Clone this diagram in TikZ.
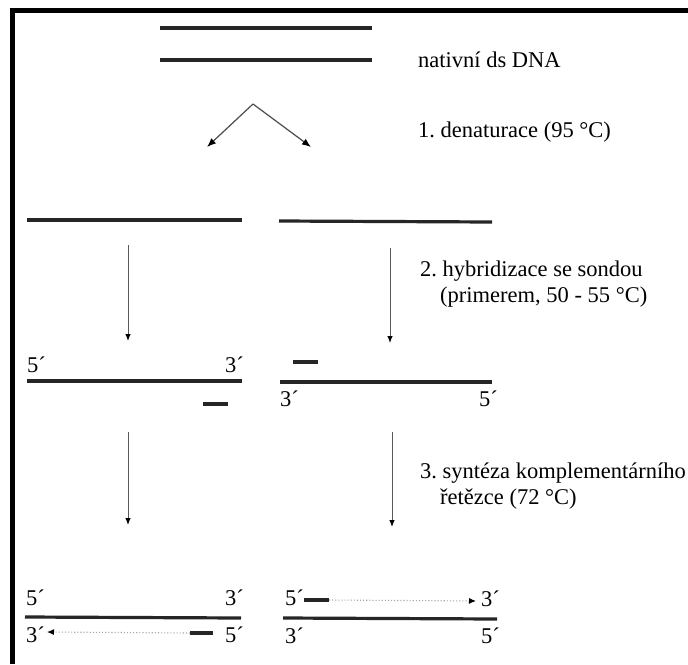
\documentclass[tikz,border=0pt]{standalone}
\usepackage{fontspec}
\setmainfont{Liberation Serif}
\usetikzlibrary{arrows.meta}
\frenchspacing
\begin{document}
\begin{tikzpicture}[x=1pt,y=-1pt,
  strand/.style={line width=3.2pt,black!85},
  primer/.style={line width=3.4pt,black!85},
  downarrow/.style={line width=1pt,black!65,-{Latex[length=7pt,width=5.5pt,black]}},
  splitarrow/.style={line width=1.2pt,black!70,-{Latex[length=9pt,width=7pt,black]}},
  synth/.style={line width=1.1pt,black!35,dotted,-{Latex[length=7pt,width=6pt,black]}},
  lbl/.style={font=\fontsize{22.5}{27}\selectfont,anchor=base west,inner sep=0pt},
  prime/.style={font=\fontsize{22.5}{27}\selectfont,inner sep=0pt,anchor=base west},
  primer/.style={line width=3.4pt,black!85},
  primeR/.style={font=\fontsize{22.5}{27}\selectfont,inner sep=0pt,anchor=base east}]
\useasboundingbox (0,0) rectangle (688,664);
\fill[white] (0,0) rectangle (688,664);
% frame (top and left edges)
\coordinate (ftl) at (12.5,10);
\coordinate (ftr) at (688,10);
\coordinate (fbl) at (12.5,664);
\draw[line width=5pt,black] (fbl) -- (ftl) -- (ftr);

% native ds DNA
\coordinate (n1a) at (160,28); \coordinate (n1b) at (372,28);
\coordinate (n2a) at (160,60); \coordinate (n2b) at (372,60);
\draw[strand] (n1a) -- (n1b);
\draw[strand] (n2a) -- (n2b);
\node[lbl] (tnat) at (418,67) {nativní ds DNA};

% denaturation split
\coordinate (apex) at (253,104);
\coordinate (sl) at (207,147);
\coordinate (sr) at (311,147);
\draw[splitarrow] (apex) -- (sl);
\draw[splitarrow] (apex) -- (sr);
\node[lbl] (tden) at (418,137) {1. denaturace (95 °C)};

% single strands
\coordinate (s1a) at (27,220); \coordinate (s1b) at (242,220);
\coordinate (s2a) at (279,221); \coordinate (s2b) at (492,222);
\draw[strand] (s1a) -- (s1b);
\draw[strand] (s2a) -- (s2b);

% arrows step 2
\coordinate (a2la) at (128,245); \coordinate (a2lb) at (128,341);
\coordinate (a2ra) at (390,248); \coordinate (a2rb) at (390,343);
\draw[downarrow] (a2la) -- (a2lb);
\draw[downarrow] (a2ra) -- (a2rb);
\node[lbl] (thyb1) at (420,276) {2. hybridizace se sondou};
\node[lbl] (thyb2) at (440,302) {(primerem, 50 - 55 °C)};

% hybridization strands
\coordinate (h1a) at (27,381); \coordinate (h1b) at (242,381);
\coordinate (h2a) at (280,382); \coordinate (h2b) at (492,382);
\draw[strand] (h1a) -- (h1b);
\draw[strand] (h2a) -- (h2b);
\coordinate (p1a) at (203,404); \coordinate (p1b) at (228,404);
\coordinate (p2a) at (293,362); \coordinate (p2b) at (318,362);
\draw[primer] (p1a) -- (p1b);
\draw[primer] (p2a) -- (p2b);
\node[prime] (h5l) at (27,372) {5´};
\node[primeR] (h3l) at (244,372) {3´};
\node[prime] (h3r) at (280,406) {3´};
\node[primeR] (h5r) at (498,406) {5´};

% arrows step 3
\coordinate (a3la) at (128,432); \coordinate (a3lb) at (128,525);
\coordinate (a3ra) at (392,432); \coordinate (a3rb) at (392,527);
\draw[downarrow] (a3la) -- (a3lb);
\draw[downarrow] (a3ra) -- (a3rb);
\node[lbl] (tsyn1) at (420,478) {3. syntéza komplementárního};
\node[lbl] (tsyn2) at (440,504) {řetězce (72 °C)};

% final strands
\coordinate (f1a) at (25,617); \coordinate (f1b) at (241,618);
\coordinate (f2a) at (283,618); \coordinate (f2b) at (497,619);
\draw[strand] (f1a) -- (f1b);
\draw[strand] (f2a) -- (f2b);
% left bottom
\node[prime] (f5tl) at (26,605) {5´};
\node[primeR] (f3tl) at (244,605) {3´};
\node[prime] (f3bl) at (26,642) {3´};
\node[primeR] (f5bl) at (244,642) {5´};
\coordinate (fp1a) at (190,633); \coordinate (fp1b) at (213,633);
\draw[primer] (fp1a) -- (fp1b);
\coordinate (fd1e) at (47,632);
\draw[synth] (fp1a) -- (fd1e);
% right
\node[prime] (f5tr) at (285,605) {5´};
\node[primeR] (f3tr) at (500,606) {3´};
\node[prime] (f3br) at (285,643) {3´};
\node[primeR] (f5br) at (500,643) {5´};
\coordinate (fp2a) at (304,600); \coordinate (fp2b) at (329,600);
\draw[primer] (fp2a) -- (fp2b);
\coordinate (fd2e) at (476,601);
\draw[synth] (fp2b) -- (fd2e);
\end{tikzpicture}
\end{document}
